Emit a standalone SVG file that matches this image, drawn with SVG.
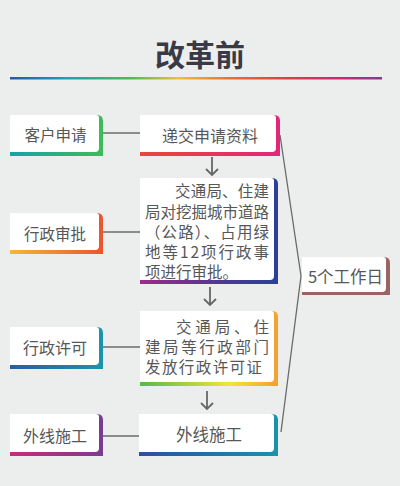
<svg xmlns="http://www.w3.org/2000/svg" width="400" height="486" viewBox="0 0 400 486">
<defs>
<style>
.t{font-family:"Noto Sans CJK SC","Noto Sans",sans-serif;fill:#575757;}
.c{text-anchor:middle;}
.ln{stroke:#6a6a6a;stroke-width:1.3;fill:none;}
.ar{stroke:#666;stroke-width:1.8;fill:none;}
.w{fill:#fff;}
</style>
<linearGradient id="rule" x1="0" x2="1" y1="0" y2="0">
<stop offset="0" stop-color="#2a56a6"/><stop offset="0.15" stop-color="#1aa2b0"/><stop offset="0.32" stop-color="#4cb85a"/><stop offset="0.45" stop-color="#e9c236"/><stop offset="0.6" stop-color="#ec6a33"/><stop offset="0.75" stop-color="#e13a48"/><stop offset="0.88" stop-color="#d42572"/><stop offset="1" stop-color="#7a4088"/>
</linearGradient>
<linearGradient id="g1" x1="0" x2="1"><stop offset="0" stop-color="#17a2a8"/><stop offset="1" stop-color="#3fbb58"/></linearGradient>
<linearGradient id="g2" x1="0" x2="1"><stop offset="0" stop-color="#f3b838"/><stop offset="1" stop-color="#ea542e"/></linearGradient>
<linearGradient id="g3" x1="0" x2="1"><stop offset="0" stop-color="#2a5ca8"/><stop offset="1" stop-color="#1a95a9"/></linearGradient>
<linearGradient id="g4" x1="0" x2="1"><stop offset="0" stop-color="#cc2a7a"/><stop offset="1" stop-color="#773d90"/></linearGradient>
<linearGradient id="gA" x1="0" x2="1"><stop offset="0" stop-color="#e44a38"/><stop offset="1" stop-color="#e2267a"/></linearGradient>
<linearGradient id="gB" x1="0" x2="1"><stop offset="0" stop-color="#a0288e"/><stop offset="0.6" stop-color="#4a3898"/><stop offset="1" stop-color="#2b3f9a"/></linearGradient>
<linearGradient id="gC" x1="0" x2="1"><stop offset="0" stop-color="#56b84c"/><stop offset="0.65" stop-color="#f2e635"/><stop offset="1" stop-color="#f2a02e"/></linearGradient>
<linearGradient id="gD" x1="0" x2="1"><stop offset="0" stop-color="#2d4ea0"/><stop offset="1" stop-color="#1a94a9"/></linearGradient>
</defs>
<rect width="400" height="486" fill="#eceeed"/>
<text x="200" y="65.5" text-anchor="middle" font-family="'Noto Sans CJK SC',sans-serif" font-weight="700" font-size="30" fill="#3a3a46">改革前</text>
<rect x="10" y="77" width="372" height="2.5" fill="url(#rule)"/>

<g id="connectors">
<line class="ln" x1="103" y1="133" x2="140" y2="133"/>
<line class="ln" x1="103" y1="232" x2="140" y2="232"/>
<line class="ln" x1="103" y1="347" x2="140" y2="347"/>
<line class="ln" x1="103" y1="436" x2="139" y2="436"/>
<polyline class="ln" points="280,135 301,276 281,432"/>
<path class="ar" d="M212,157 V175 M206,169 L212,175 L218,169"/>
<path class="ar" d="M210,287 V305 M204,299 L210,305 L216,299"/>
<path class="ar" d="M207,391 V409 M201,403 L207,409 L213,403"/>
</g>

<g id="n-kehu">
<path d="M10,115 H97 Q103,115 103,121 V156 H10 Z" fill="url(#g1)"/>
<path class="w" d="M10,115 H96 Q99,115 99,118 V148 Q99,152 95,152 H10 Z"/>
<text class="t c" x="55.5" y="141" font-size="15.5">客户申请</text>
</g>
<g id="n-shenpi">
<path d="M10,213 H97 Q103,213 103,219 V254 H10 Z" fill="url(#g2)"/>
<path class="w" d="M10,213 H96 Q99,213 99,216 V246 Q99,250 95,250 H10 Z"/>
<text class="t c" x="55" y="240" font-size="15.5">行政审批</text>
</g>
<g id="n-xuke">
<path d="M10,327 H97 Q103,327 103,333 V369 H10 Z" fill="url(#g3)"/>
<path class="w" d="M10,327 H96 Q99,327 99,330 V361 Q99,365 95,365 H10 Z"/>
<text class="t c" x="55" y="354" font-size="16">行政许可</text>
</g>
<g id="n-waixian-l">
<path d="M10,414 H97 Q103,414 103,420 V456 H10 Z" fill="url(#g4)"/>
<path class="w" d="M10,414 H96 Q99,414 99,417 V448 Q99,452 95,452 H10 Z"/>
<text class="t c" x="55" y="442" font-size="16">外线施工</text>
</g>

<g id="n-dijiao">
<path d="M140,115 H274 Q280,115 280,121 V156 H140 Z" fill="url(#gA)"/>
<path class="w" d="M140,115 H273 Q276,115 276,118 V148 Q276,152 272,152 H140 Z"/>
<text class="t c" x="210" y="142" font-size="16">递交申请资料</text>
</g>
<g id="n-shenpi-detail">
<path d="M140,178 H272 Q278,178 278,184 V284 H140 Z" fill="url(#gB)"/>
<path class="w" d="M140,178 H271 Q274,178 274,181 V276 Q274,280 270,280 H140 Z"/>
<g class="t" font-size="15.5">
<text x="175" y="197" textLength="94" lengthAdjust="spacing">交通局、住建</text>
<text x="145" y="218" textLength="124" lengthAdjust="spacing">局对挖掘城市道路</text>
<text x="145" y="238" textLength="124" lengthAdjust="spacing">（公路）、占用绿</text>
<text x="145" y="258" textLength="124" lengthAdjust="spacing">地等12项行政事</text>
<text x="145" y="278">项进行审批。</text>
</g>
</g>
<g id="n-xuke-detail">
<path d="M140,311 H272 Q278,311 278,317 V386 H140 Z" fill="url(#gC)"/>
<path class="w" d="M140,311 H271 Q274,311 274,314 V378 Q274,382 270,382 H140 Z"/>
<g class="t" font-size="15.5">
<text x="176" y="332.5" textLength="93" lengthAdjust="spacing">交通局、住</text>
<text x="145" y="353" textLength="124" lengthAdjust="spacing">建局等行政部门</text>
<text x="145" y="373" textLength="117" lengthAdjust="spacing">发放行政许可证</text>
</g>
</g>
<g id="n-waixian-m">
<path d="M139,414 H272 Q278,414 278,420 V456 H139 Z" fill="url(#gD)"/>
<path class="w" d="M139,414 H271 Q274,414 274,417 V448 Q274,452 270,452 H139 Z"/>
<text class="t c" x="209" y="441" font-size="16.5">外线施工</text>
</g>
<g id="n-days">
<path d="M302,257 H384 Q390,257 390,263 V295 H302 Z" fill="#9b6462"/>
<path class="w" d="M302,257 H383 Q386,257 386,260 V288 Q386,292 382,292 H302 Z"/>
<text class="t c" x="345.5" y="283" font-size="16.5">5个工作日</text>
</g>
</svg>
